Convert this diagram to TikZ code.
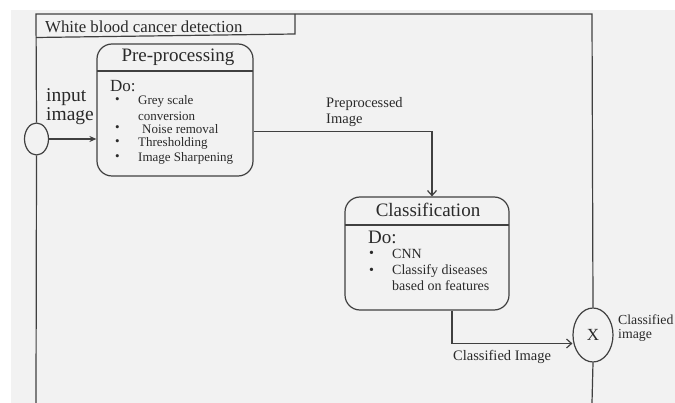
\documentclass[tikz,border=0pt]{standalone}
\usepackage{fontspec}
\setmainfont{Liberation Serif}
\usetikzlibrary{arrows.meta,shapes.geometric}
\definecolor{bgcol}{HTML}{F2F2F2}
\definecolor{linecol}{HTML}{404040}
\definecolor{txtcol}{HTML}{2A2A2A}
\begin{document}
\begin{tikzpicture}[x=1pt,y=-1pt,
  ln/.style={draw=linecol,line width=1.2pt},
  arr/.style={ln,-{Stealth[length=7pt,width=6pt]}},
  barb/.style={ln,-{Straight Barb[length=5pt,width=9pt]}},
  box/.style={ln,rounded corners=15pt,minimum width=#1,inner sep=0pt},
  txt/.style={text=txtcol,inner sep=0pt,anchor=west},
  tiny/.style={txt,font=\fontsize{13}{15}\selectfont},
  mid/.style={txt,font=\fontsize{14.5}{16}\selectfont},
  bul/.style={txt,font=\fontsize{13}{15}\selectfont}
]
\useasboundingbox (0,0) rectangle (675,403);
\fill[bgcol] (11,10) rectangle (675,403);

% frame corners
\coordinate (ftl) at (36,14);
\coordinate (ftr) at (592,14);
\coordinate (fbl) at (36,403);
\coordinate (fbr) at (592,403);
\coordinate (tabr) at (295,14);
\coordinate (tabc) at (295,34);
\coordinate (tabl) at (36,37.5);

% circles
\node[ellipse,ln,minimum width=24pt,minimum height=32pt,inner sep=0pt] (in) at (36.5,139) {};
\node[ellipse,ln,minimum width=40pt,minimum height=54pt,inner sep=0pt,text=txtcol,font=\fontsize{17}{20}\selectfont] (out) at (593,335) {X};

% frame
\draw[ln] (in.north) -- (ftl) -- (ftr) -- (out.north);
\draw[ln] (in.south) -- (fbl);
\draw[ln] (out.south) -- (fbr);
\draw[ln] (tabl) -- (tabc) -- (tabr);
\node[txt,font=\fontsize{16.8}{18}\selectfont] (title) at (45,27) {White blood cancer detection};

% pre-processing box
\node[box=156pt,minimum height=132pt] (pre) at (175,110) {};
\coordinate (preL) at (97,71);
\coordinate (preR) at (253,71);
\draw[ln] (preL) -- (preR);
\node[txt,anchor=center,font=\fontsize{19}{22}\selectfont] (pretitle) at (178,57) {Pre-processing};
\node[txt,font=\fontsize{17}{20}\selectfont] (predo) at (110,86) {Do:};
\node[bul] (pb1) at (115,101) {•};
\node[tiny] (pt1) at (138,101) {Grey scale};
\node[tiny] (pt1b) at (138,116) {conversion};
\node[bul] (pb2) at (115,129) {•};
\node[tiny] (pt2) at (142,129) {Noise removal};
\node[bul] (pb3) at (115,143) {•};
\node[tiny] (pt3) at (138,143) {Thresholding};
\node[bul] (pb4) at (115,158) {•};
\node[tiny] (pt4) at (138,158) {Image Sharpening};

% input label
\node[txt,font=\fontsize{19.5}{22}\selectfont] (inl1) at (46,97) {input};
\node[txt,font=\fontsize{19.5}{22}\selectfont] (inl2) at (46,116) {image};
\draw[arr] (in.east) -- (in.east -| pre.west);

% classification box
\node[box=164pt,minimum height=113pt] (cls) at (427,253.5) {};
\coordinate (clsL) at (345,225);
\coordinate (clsR) at (509,225);
\draw[ln] (clsL) -- (clsR);
\node[txt,anchor=center,font=\fontsize{19}{22}\selectfont] (clstitle) at (428,210) {Classification};
\node[txt,font=\fontsize{19}{22}\selectfont] (clsdo) at (368,237) {Do:};
\node[bul,font=\fontsize{14}{16}\selectfont] (cb1) at (369,254) {•};
\node[mid,font=\fontsize{14}{16}\selectfont] (ct1) at (392,254) {CNN};
\node[bul,font=\fontsize{14}{16}\selectfont] (cb2) at (369,271) {•};
\node[mid,font=\fontsize{14}{16}\selectfont] (ct2) at (392,271) {Classify diseases};
\node[mid,font=\fontsize{14}{16}\selectfont] (ct2b) at (392,286) {based on features};

% connector pre -> cls
\coordinate (c1) at (432,131.5);
\draw[barb] (pre.east |- c1) -- (c1) -- (c1 |- cls.north);
\node[mid] (pl1) at (326,104) {Preprocessed};
\node[mid] (pl2) at (326,120) {Image};

% connector cls -> out
\coordinate (c2) at (452,343.5);
\draw[barb] (c2 |- cls.south) -- (c2) -- (c2 -| out.west);
\node[mid] (cl) at (453,357) {Classified Image};

\node[txt,font=\fontsize{13.8}{16}\selectfont] (ol1) at (618,320) {Classified};
\node[txt,font=\fontsize{13.8}{16}\selectfont] (ol2) at (618,335) {image};
\end{tikzpicture}
\end{document}
